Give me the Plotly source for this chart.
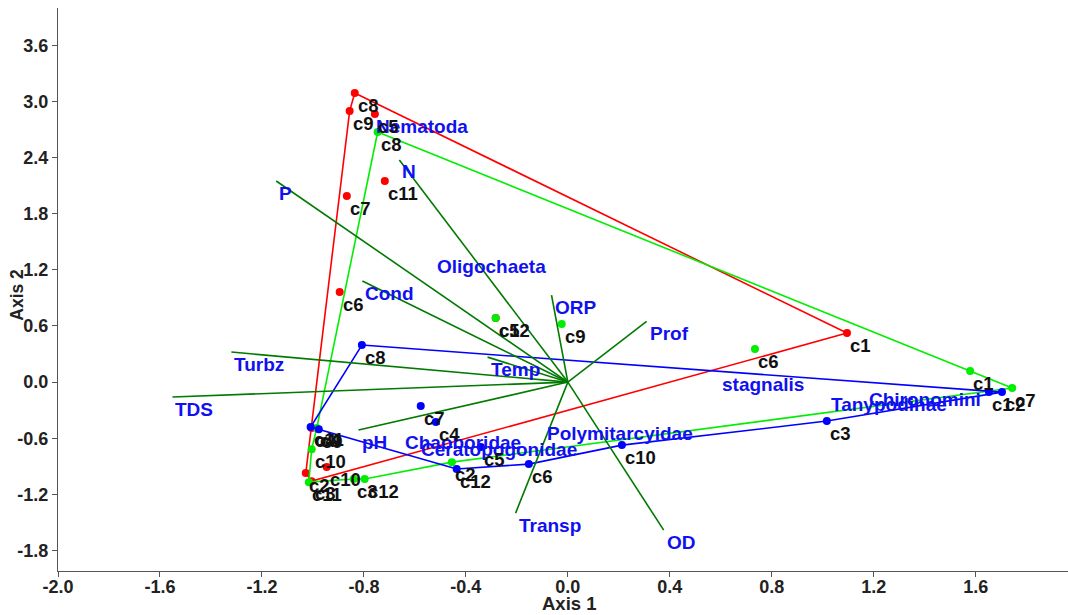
import plotly.graph_objects as go

# ---------------- data ----------------
sites = ["c1", "c2", "c3", "c4", "c5", "c6", "c7", "c8", "c9", "c10", "c11", "c12"]

red_x = [1.095, -1.028, -1.005, -1.005, -0.757, -0.895, -0.867, -0.836, -0.856, -0.946, -0.718, -0.283]
red_y = [0.524, -0.973, -1.059, -0.492, 2.866, 0.963, 1.989, 3.091, 2.898, -0.909, 2.150, 0.684]

green_x = [1.578, -0.455, -0.840, -0.985, -0.283, 0.734, 1.743, -0.746, -0.024, -1.005, -1.016, -0.797]
green_y = [0.118, -0.856, -1.037, -0.492, 0.684, 0.353, -0.064, 2.674, 0.620, -0.717, -1.070, -1.037]

blue_x = [1.652, 1.703, 1.016, -0.518, -0.341, -0.153, -0.577, -0.808, -0.977, 0.212, -1.009, -0.436]
blue_y = [-0.107, -0.107, -0.417, -0.428, -0.695, -0.877, -0.257, 0.396, -0.503, -0.674, -0.481, -0.930]

# outline order of each group (site names)
red_outline = ["c8", "c1", "c3", "c2", "c9"]
green_outline = ["c8", "c1", "c7", "c2", "c12", "c3", "c11", "c10", "c4"]
blue_outline = ["c8", "c2", "c3", "c10", "c6", "c12", "c11"]

species = ["Nematoda", "Oligochaeta", "Chaoboridae", "Ceratopogonidae",
           "Polymitarcyidae", "stagnalis", "Tanypodinae", "Chironomini"]
species_x = [-0.765, -0.526, -0.651, -0.589, -0.094, 0.593, 1.020, 1.170]
species_y = [2.866, 1.369, -0.513, -0.588, -0.417, 0.107, -0.107, -0.053]

env = ["P", "N", "Cond", "ORP", "Prof", "Temp", "Turbz", "TDS", "pH", "Transp", "OD"]
env_x = [-1.144, -0.661, -0.806, -0.064, 0.309, -0.315, -1.320, -1.551, -0.821, -0.205, 0.376]
env_y = [2.150, 2.375, 1.080, 0.930, 0.650, 0.267, 0.321, -0.160, -0.513, -1.401, -1.583]

x_ticks = [-2.0, -1.6, -1.2, -0.8, -0.4, 0.0, 0.4, 0.8, 1.2, 1.6]
x_tick_labels = ["-2.0", "-1.6", "-1.2", "-0.8", "-0.4", "0.0", "0.4", "0.8", "1.2", "1.6"]
y_ticks = [-1.8, -1.2, -0.6, 0.0, 0.6, 1.2, 1.8, 2.4, 3.0, 3.6]
y_tick_labels = ["-1.8", "-1.2", "-0.6", "0.0", "0.6", "1.2", "1.8", "2.4", "3.0", "3.6"]

# ---------------- figure ----------------
FONT = "Liberation Sans, Arial, sans-serif"
fig = go.Figure()

groups = [
    (red_x, red_y, red_outline, "#ff0000"),
    (green_x, green_y, green_outline, "#00ee00"),
    (blue_x, blue_y, blue_outline, "#0000ff"),
]

for gx, gy, outline, col in groups:
    idx = [sites.index(s) for s in outline] + [sites.index(outline[0])]
    fig.add_trace(go.Scatter(
        x=[gx[i] for i in idx], y=[gy[i] for i in idx], mode="lines",
        line=dict(color=col, width=1.6), hoverinfo="skip", showlegend=False))
    fig.add_trace(go.Scatter(
        x=gx, y=gy, mode="markers", marker=dict(color=col, size=8),
        showlegend=False, text=sites))

# environmental vectors from origin
vx, vy = [], []
for ex, ey in zip(env_x, env_y):
    vx += [0, ex, None]
    vy += [0, ey, None]
fig.add_trace(go.Scatter(x=vx, y=vy, mode="lines",
                         line=dict(color="#007a00", width=1.6),
                         hoverinfo="skip", showlegend=False))

annotations = []
def label(x, y, t, color, size):
    annotations.append(dict(
        x=x, y=y, xref="x", yref="y", text=t, showarrow=False,
        xanchor="left", yanchor="middle", xshift=1, yshift=-12,
        font=dict(family=FONT, size=size, color=color, weight="bold")))

for sx, sy, s in zip(species_x, species_y, species):
    label(sx, sy, s, "#1010f0", 19)
for ex, ey, e in zip(env_x, env_y, env):
    label(ex, ey, e, "#1010f0", 19)
for gx, gy, outline, col in groups:
    for px, py, s in zip(gx, gy, sites):
        label(px, py, s, "#111111", 18.5)

# axis titles
annotations.append(dict(x=0.506, y=-0.058, xref="paper", yref="paper", text="Axis 1",
                        showarrow=False, xanchor="center", yanchor="middle",
                        font=dict(family=FONT, size=18.5, color="#222222", weight="bold")))
annotations.append(dict(x=-0.040, y=0.49, xref="paper", yref="paper", text="Axis 2",
                        showarrow=False, xanchor="center", yanchor="middle", textangle=-90,
                        font=dict(family=FONT, size=17.5, color="#222222", weight="bold")))

axis_common = dict(showgrid=False, zeroline=False, showline=True, linecolor="#555555",
                   linewidth=1, ticks="outside", ticklen=5, tickcolor="#555555",
                   tickfont=dict(family=FONT, size=18, color="#222222", weight="bold"))

fig.update_layout(
    width=1068, height=615,
    margin=dict(l=58, r=0, t=8, b=44),
    paper_bgcolor="white", plot_bgcolor="white",
    xaxis=dict(range=[-2.0, 1.962], tickvals=x_ticks, ticktext=x_tick_labels,
               ticklabelstandoff=-6, **axis_common),
    yaxis=dict(range=[-2.02, 4.0], tickvals=y_ticks, ticktext=y_tick_labels, **axis_common),
    annotations=annotations,
    showlegend=False,
)

fig.write_html("out.html", config={"displayModeBar": False},
               post_script="document.body.style.margin='0';")
